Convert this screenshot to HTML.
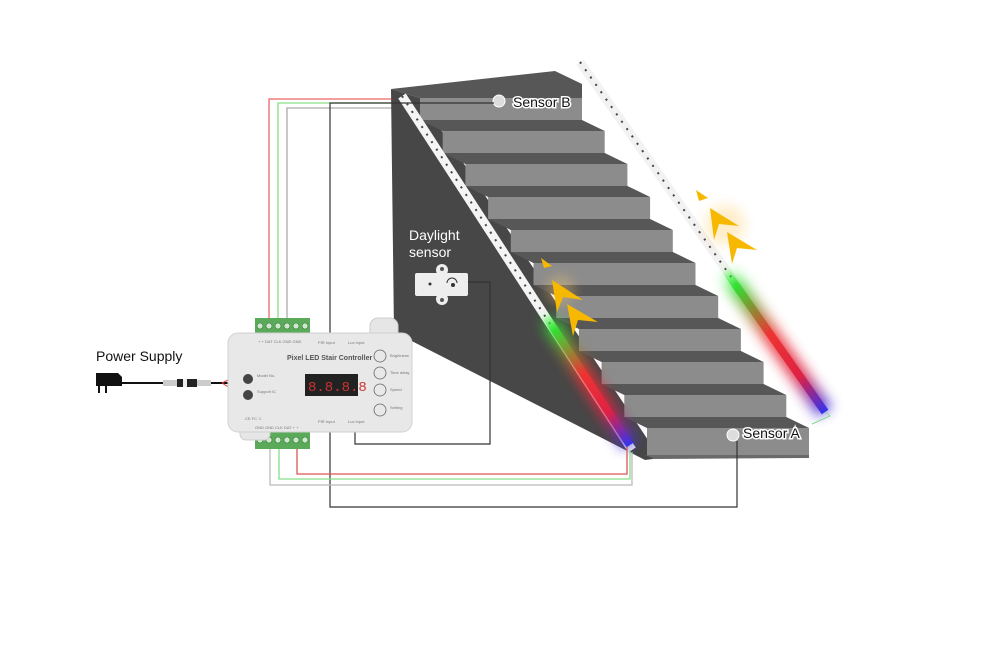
<!DOCTYPE html>
<html><head><meta charset="utf-8"><style>
html,body{margin:0;padding:0;background:#fff;}
svg{display:block;font-family:"Liberation Sans",sans-serif;}
</style></head><body>
<svg width="993" height="659" viewBox="0 0 993 659" xmlns="http://www.w3.org/2000/svg">
<defs>
<filter id="blur2" x="-50%" y="-50%" width="200%" height="200%"><feGaussianBlur stdDeviation="6"/></filter>
<linearGradient id="gl" x1="545" y1="315" x2="630" y2="445" gradientUnits="userSpaceOnUse">
<stop offset="0" stop-color="#3f3" stop-opacity="0"/><stop offset="0.12" stop-color="#3d3"/><stop offset="0.45" stop-color="#e33"/><stop offset="0.75" stop-color="#d24"/><stop offset="1" stop-color="#33e"/></linearGradient>
<linearGradient id="gr" x1="725" y1="270" x2="825" y2="412" gradientUnits="userSpaceOnUse">
<stop offset="0" stop-color="#3f3" stop-opacity="0"/><stop offset="0.12" stop-color="#3d3"/><stop offset="0.45" stop-color="#e33"/><stop offset="0.75" stop-color="#d24"/><stop offset="1" stop-color="#33e"/></linearGradient>
</defs>

<g fill="none" stroke-width="1.3">
<polyline points="269,320 269,99 395,99" stroke="#e66"/>
<polyline points="278,320 278,103 395,103" stroke="#8d8"/>
<polyline points="287,320 287,108 395,108" stroke="#aaa"/>
</g>

<polygon points="391,89 420,98 660,458 645,460 394,332" fill="#474747"/>
<polygon points="391,89 555,71 582,84 582,98 420,98" fill="#575757"/>
<g fill="#575757">
<polygon points="420,120 582,120 604.7,131 442.7,131"/>
<polygon points="442.7,153 604.7,153 627.4,164 465.4,164"/>
<polygon points="465.4,186 627.4,186 650.1,197 488.1,197"/>
<polygon points="488.1,219 650.1,219 672.8,230 510.8,230"/>
<polygon points="510.8,252 672.8,252 695.5,263 533.5,263"/>
<polygon points="533.5,285 695.5,285 718.2,296 556.2,296"/>
<polygon points="556.2,318 718.2,318 740.9,329 578.9,329"/>
<polygon points="578.9,351 740.9,351 763.6,362 601.6,362"/>
<polygon points="601.6,384 763.6,384 786.3,395 624.3,395"/>
<polygon points="624.3,417 786.3,417 809,428 647,428"/>
</g>
<g fill="#8c8c8c">
<rect x="420" y="98" width="162" height="22"/>
<rect x="442.7" y="131" width="162" height="22"/>
<rect x="465.4" y="164" width="162" height="22"/>
<rect x="488.1" y="197" width="162" height="22"/>
<rect x="510.8" y="230" width="162" height="22"/>
<rect x="533.5" y="263" width="162" height="22"/>
<rect x="556.2" y="296" width="162" height="22"/>
<rect x="578.9" y="329" width="162" height="22"/>
<rect x="601.6" y="362" width="162" height="22"/>
<rect x="624.3" y="395" width="162" height="22"/>
<rect x="647" y="428" width="162" height="27"/>
</g>
<polygon points="645,455 809,455 809,458 655,459" fill="#6a6a6a"/>

<line x1="402" y1="96" x2="632" y2="450" stroke="#f4f4f4" stroke-width="9"/>
<line x1="402" y1="96" x2="632" y2="450" stroke="#444" stroke-width="2" stroke-dasharray="2 7"/>
<line x1="580" y1="62" x2="826" y2="412" stroke="#f2f2f2" stroke-width="9"/>
<line x1="580" y1="62" x2="826" y2="412" stroke="#444" stroke-width="2" stroke-dasharray="2 7"/>
<line x1="545" y1="315" x2="630" y2="445" stroke="url(#gl)" stroke-width="18" filter="url(#blur2)" opacity="0.85"/>
<line x1="545" y1="315" x2="630" y2="445" stroke="url(#gl)" stroke-width="8"/>
<line x1="725" y1="270" x2="825" y2="412" stroke="url(#gr)" stroke-width="18" filter="url(#blur2)" opacity="0.85"/>
<line x1="725" y1="270" x2="825" y2="412" stroke="url(#gr)" stroke-width="8"/>
<polyline points="826,412 830,416 812,424" fill="none" stroke="#8d8" stroke-width="1"/>

<g fill="#f6b800">
<circle cx="560" cy="290" r="14" fill="#fc6" opacity="0.35" filter="url(#blur2)"/>
<polygon points="541,258 552,266 544,268"/>
<polygon points="552,280 583,300 563,297 557,312"/>
<polygon points="567,304 598,322 578,320 573,336"/>
<circle cx="725" cy="225" r="20" fill="#fc6" opacity="0.35" filter="url(#blur2)"/>
<polygon points="696,190 708,198 699,201"/>
<polygon points="710,208 739,226 719,224 714,240"/>
<polygon points="727,232 757,250 737,248 732,264"/>
</g>

<circle cx="499" cy="101" r="6" fill="#ddd" stroke="#fff"/>
<text x="513" y="107" font-size="14" fill="#111" stroke="#fff" stroke-width="3" paint-order="stroke">Sensor B</text>
<circle cx="733" cy="435" r="6" fill="#ddd" stroke="#fff"/>
<text x="743" y="438" font-size="14" fill="#111" stroke="#fff" stroke-width="3" paint-order="stroke">Sensor A</text>

<g fill="none" stroke="#333" stroke-width="1.2">
<polyline points="330,333 330,103 494,103"/>
<polyline points="355,425 355,444 490,444 490,282 466,282"/>
<polyline points="330,425 330,507 737,507 737,441"/>
</g>
<g fill="none" stroke-width="1.3">
<polyline points="297,447 297,474 627,474 627,447" stroke="#d55"/>
<polyline points="279,447 279,479 630,479 630,450" stroke="#8d8"/>
<polyline points="270,447 270,485 632,485 632,452" stroke="#bbb"/>
</g>

<text x="409" y="240" font-size="14" fill="#fff">Daylight</text>
<text x="409" y="257" font-size="14" fill="#fff">sensor</text>
<rect x="415" y="273" width="53" height="23" fill="#eee" rx="2"/>
<circle cx="442" cy="270" r="6" fill="#eee"/><circle cx="442" cy="299" r="6" fill="#eee"/>
<circle cx="442" cy="269" r="2" fill="#555"/><circle cx="442" cy="300" r="2" fill="#555"/>
<circle cx="430" cy="284" r="1.5" fill="#333"/><circle cx="453" cy="285" r="2" fill="#333"/>
<path d="M447,283 a5,5 0 0 1 10,0" fill="none" stroke="#333"/>

<text x="96" y="361" font-size="14" fill="#111">Power Supply</text>
<path d="M96,373 h22 l4,4 v9 h-26 z" fill="#111"/>
<rect x="98" y="386" width="2" height="7" fill="#111"/><rect x="105" y="386" width="2" height="7" fill="#111"/>
<line x1="120" y1="383" x2="228" y2="383" stroke="#111" stroke-width="2"/>
<rect x="163" y="380" width="14" height="6" fill="#ccc"/>
<rect x="177" y="379" width="20" height="8" fill="#222"/><rect x="183" y="379" width="4" height="8" fill="#eee"/>
<rect x="197" y="380" width="14" height="6" fill="#ccc"/>
<path d="M222,383 l8,-4 M222,383 l8,5" stroke="#d33" stroke-width="1"/>

<rect x="255" y="318" width="55" height="17" fill="#5aaa5a"/>
<rect x="255" y="432" width="55" height="17" fill="#5aaa5a"/>
<g fill="#cde8cd" stroke="#3a7a3a" stroke-width="0.6">
<circle cx="260" cy="326" r="3"/><circle cx="269" cy="326" r="3"/><circle cx="278" cy="326" r="3"/><circle cx="287" cy="326" r="3"/><circle cx="296" cy="326" r="3"/><circle cx="305" cy="326" r="3"/>
<circle cx="260" cy="440" r="3"/><circle cx="269" cy="440" r="3"/><circle cx="278" cy="440" r="3"/><circle cx="287" cy="440" r="3"/><circle cx="296" cy="440" r="3"/><circle cx="305" cy="440" r="3"/>
</g>
<rect x="370" y="318" width="28" height="22" rx="8" fill="#e6e6e6" stroke="#ccc"/>
<rect x="240" y="420" width="30" height="20" rx="6" fill="#e6e6e6" stroke="#ccc"/>
<rect x="228" y="333" width="184" height="99" rx="10" fill="#e8e8e8" stroke="#d0d0d0"/>
<text x="287" y="360" font-size="7" font-weight="bold" fill="#555">Pixel LED Stair Controller</text>
<rect x="305" y="374" width="53" height="22" fill="#222"/>
<text x="308" y="391" font-size="14" fill="#c33" font-family="Liberation Mono,monospace">8.8.8.8</text>
<circle cx="248" cy="379" r="5" fill="#444"/><circle cx="248" cy="395" r="5" fill="#444"/>
<g fill="none" stroke="#666" stroke-width="0.8">
<circle cx="380" cy="356" r="6"/><circle cx="380" cy="373" r="6"/><circle cx="380" cy="390" r="6"/><circle cx="380" cy="410" r="6"/>
</g>
<g font-size="4" fill="#777">
<text x="390" y="357">Brightness</text><text x="390" y="374">Time delay</text><text x="390" y="391">Speed</text><text x="390" y="409">Setting</text>
<text x="257" y="377">Model No.</text><text x="257" y="393">Support IC</text>
<text x="318" y="344">PIR Input</text><text x="348" y="344">Lux Input</text>
<text x="318" y="423">PIR Input</text><text x="348" y="423">Lux Input</text>
<text x="258" y="343">+ + DAT CLK GND GND</text><text x="255" y="429">GND GND CLK DAT + +</text>
<text x="245" y="420">CE  FC  ♲</text>
</g>
</svg>
</body></html>
